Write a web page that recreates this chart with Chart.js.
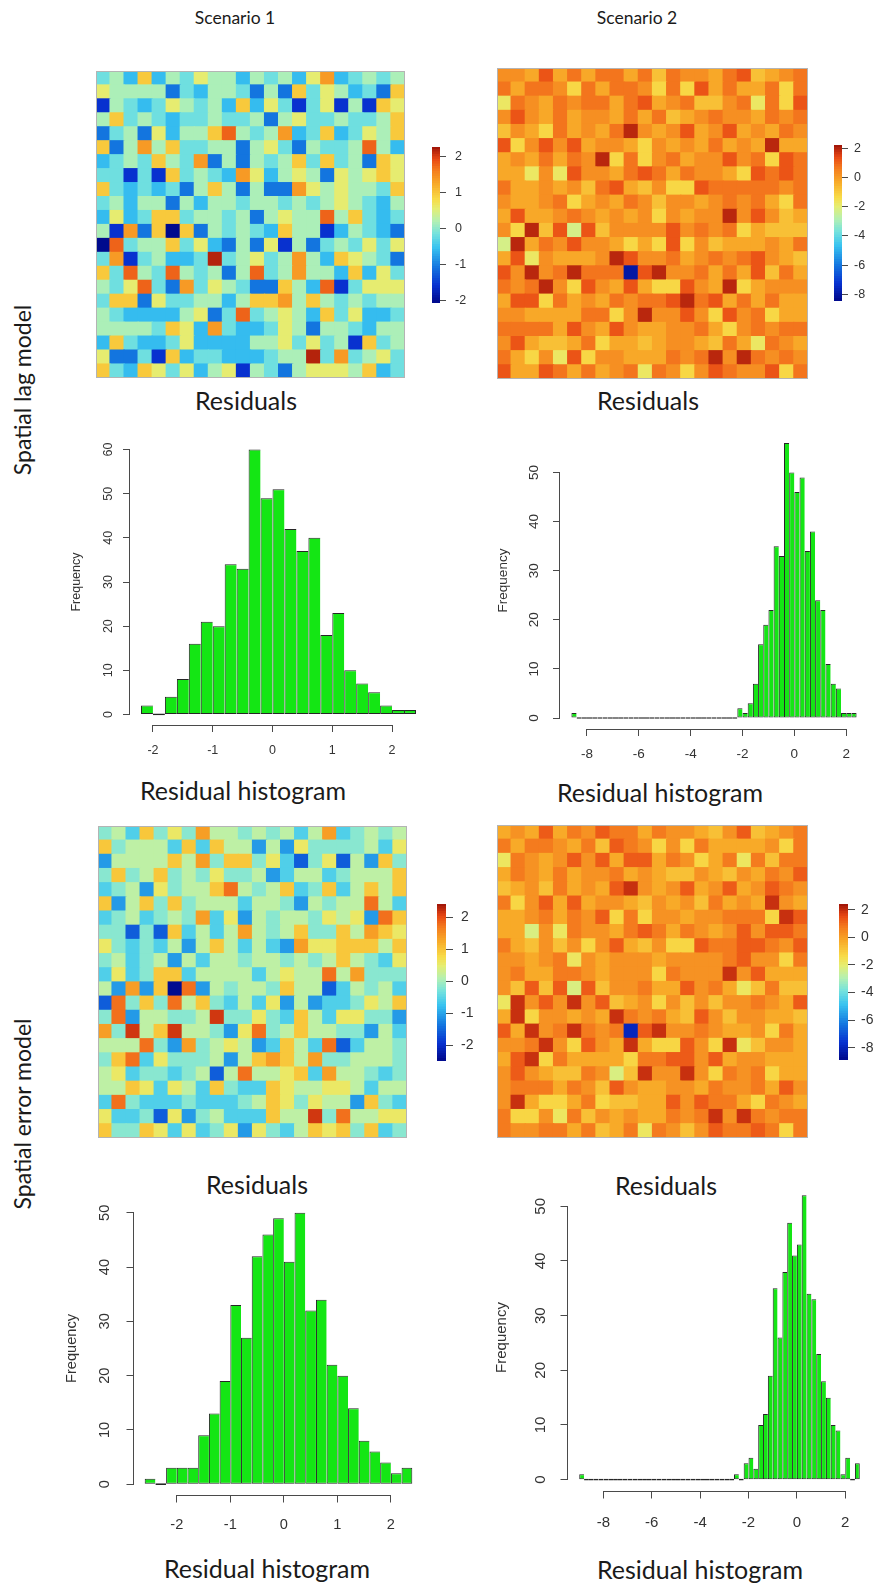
<!DOCTYPE html>
<html>
<head>
<meta charset="utf-8">
<script src="https://cdn.jsdelivr.net/npm/chart.js@4.4.0/dist/chart.umd.min.js"></script>
<style>
html,body{margin:0;padding:0;background:#fff;}
body{width:883px;height:1587px;position:relative;overflow:hidden;}
.box{position:absolute;}
.box canvas{display:block;}
.lbl{position:absolute;transform:translate(-50%,-50%);white-space:nowrap;color:#1a1a1a;font-family:Lato,"Open Sans",sans-serif;line-height:1;}
.rot{transform:translate(-50%,-50%) rotate(-90deg);}
</style>
</head>
<body>
<div class="lbl" style="left:235px;top:18px;font-size:17.5px">Scenario 1</div>
<div class="lbl" style="left:637px;top:18px;font-size:17.5px">Scenario 2</div>
<div class="lbl rot" style="left:22px;top:390px;font-size:23px">Spatial lag model</div>
<div class="lbl rot" style="left:22px;top:1114px;font-size:23px">Spatial error model</div>
<div class="lbl" style="left:246px;top:400px;font-size:25px">Residuals</div>
<div class="lbl" style="left:648px;top:400px;font-size:25px">Residuals</div>
<div class="lbl" style="left:243px;top:790px;font-size:25px">Residual histogram</div>
<div class="lbl" style="left:660px;top:792px;font-size:25px">Residual histogram</div>
<div class="lbl" style="left:257px;top:1184px;font-size:25px">Residuals</div>
<div class="lbl" style="left:666px;top:1185px;font-size:25px">Residuals</div>
<div class="lbl" style="left:267px;top:1568px;font-size:25px">Residual histogram</div>
<div class="lbl" style="left:700px;top:1569px;font-size:25px">Residual histogram</div>

<div class="box" style="left:96px;top:71px;width:309px;height:307px"><canvas id="hm1"></canvas></div>
<div class="box" style="left:497px;top:68px;width:311px;height:311px"><canvas id="hm2"></canvas></div>
<div class="box" style="left:98px;top:826px;width:309px;height:312px"><canvas id="hm3"></canvas></div>
<div class="box" style="left:497px;top:825px;width:311px;height:313px"><canvas id="hm4"></canvas></div>

<div class="box" style="left:432px;top:137px;width:48px;height:176px"><canvas id="cb1"></canvas></div>
<div class="box" style="left:834px;top:135px;width:48px;height:176px"><canvas id="cb2"></canvas></div>
<div class="box" style="left:437px;top:894px;width:49px;height:177px"><canvas id="cb3"></canvas></div>
<div class="box" style="left:839px;top:894px;width:44px;height:176px"><canvas id="cb4"></canvas></div>

<div class="box" style="left:50px;top:429px;width:387px;height:346px"><canvas id="h1"></canvas></div>
<div class="box" style="left:480px;top:422px;width:398px;height:357px"><canvas id="h2"></canvas></div>
<div class="box" style="left:54px;top:1192px;width:379px;height:353px"><canvas id="h3"></canvas></div>
<div class="box" style="left:488px;top:1174px;width:393px;height:367px"><canvas id="h4"></canvas></div>

<script>
// ---------------- DATA ----------------
// Residual maps: 22 x 22 cells, rows listed top to bottom, one letter per cell (level codes below)
const S1_LEVELS = {Z:-2.45, A:-2.05, B:-1.6, C:-1.1, D:-0.6, E:-0.2, F:0.15, G:0.55, H:0.95, I:1.35, J:1.75, K:2.15};
const S2_LEVELS = {a:-8.0, b:-2.3, c:-1.8, d:-1.3, e:-0.8, f:-0.3, g:0.2, h:0.7, i:1.2, j:1.9};

const lagS1Rows = [
"EFDHDFEGFFDFEFDGIDEFEF","GFFFFCEDFFECFCHEGFDECH","BFEDEGFEFDHDGEBEGBFBHG","FHEFEDEEFEEFCFGEEFEEFH",
"CEFCGDFFHJFEFIDEHDEGFH","HCFIFHEEFFCFGECFEEFJFD","DEFEHFEICFCFEFHEHEFCHG","EEBEBHEFEDIGDFGFCGFGHG",
"HEDEDECFHFCFCCIGFGFFEH","EFDFFCFDFFEFFEFEFGFEDF","DGDEHHEFFEFCFGFFJFHEDE","FBICHAHCFEFEDHFFBDFEDC",
"AJEFFHEGDCFCGBFCEFEGEG","EIBEFDDEKEFGEFIFDHGFEC","HEJFEJFEFCFJEFIFFDHDGE","FEGJECIEGFECCHFDJBEGGG",
"EHHCGEEFFDFHHIFHFEFEFF","FEDDDDFGCEJEFGFDHEGDDE","FFFFEHGDIEDDEGFCFFEDFF","DHEDDEGDDDDFFGEGEFBHEF",
"GCCEBHDEEDDDEFFKEIEFGE","HEDHGEGDFGBFECFGGGFHDE"];

const lagS2Rows = [
"ggfifhfhhfhehggfhiefgh","hfhhgdhfhhgdhdifhffhdh","chgfhghhfhifgheeghchdi","gigfhfggfhfhefghggfhgh",
"egfdhfgfhjgfgifgifgfhg","idgigifggfdgfgfhfgfjff","fgfhfhgjdhdghfggighdih","ffcgciggfhihfhggfdihih",
"hffgfgehifegddihhhhhgh","gffghdfgfhgeggfghghfdh","fiffghgfgfgdgfggjgigef","gdjeibieggggighghdfeee",
"bjfhgiggfdfdidgefffgfh","ficgfffgjigghfghghigfe","igjghjhhhaijgghfhfiehf","hghjgdigfifddigfjdfggg",
"fiidhfgfhghhijhifhfhff","ggffffhhdgjggigdighdff","hhhhfigfigffgghfdghghh","gifeefhdffefggfehfchgf",
"hfdgcidggfffhghjgjhghg","iffihfhfghchgdgihggidh"];

const errS1Rows = [
"EFDHEGEIFFEFEFDFIDEFEF","HEFFFDHDHFFCFCGEEEEFDG","CFFFFHFIEHHEGDBEGBFCHE","EHEFHEFEGEEFCDFFDEFFFH",
"DEFCGEFFHJFEFHDEHDFHFH","HCFHEHEFFFDFFECFEFFJFD","DEFDEFEIDGCFEFFEGFGCJH","EEBEBHDFDFIFEFHEEHFIHG",
"GEDEDFCFHFDFDCIGGHHHFH","EFDEFCFDFFEFFEFEFHFEDG","DGDEHHDFFFFDFGFFJFIEEE","FCICHZJCFEFFEHFFBDFEFD",
"BJEHEJFHEDFDGCFCDDEGFH","EJCFFEEFKEEGEDHFDGGEEC","IEKFHKFFECGJEFHFFEECFD","FFFJECIEFGFCDHFDJBDFFE",
"EHJDGEEEFCFHIHFIEEFFFE","FGDEEDEFBFJFFGHDIFFEDE","FFHGDGFDHEDDHGFFGGFDFF","DJEDDDEDDDEFHGEGFFCHED",
"GDDEBGCEFDDDHFFKEJFFGG","HEEHGDGDEGCGEDFHGHEHDE"];

const errS2Rows = [
"fgfifhgihhfhggfegiefgh","hfhhgfheihgdgdhffffgdh","chgfgigifiifhgdfhchehh","fhgfhfgghfgfeegfegfhgi",
"efgehfgfijgfgifgifgihg","hdgififggfegfgehfgfjgf","ffghfhgidhdggfgghhhdji","ffbgchggfhihfhgfgigiih",
"hfegegdgifegddihhiihgi","ggfghcgfgggfgggghiggdh","ghffhhgfgggdhgggjgifff","geieibiegghffighfcehee",
"cjgigjgiefgdgegegghgfi","fjdggfgfjhghfeigeggffe","ifjghjhghaijgghgffgdhf","gghjgdigfjfddigdjceggf",
"fijdhffffdhhiigifggfff","gigfeehgbejggjgdhghdff","ghhhfhgeigffggfhgghfig","gjfddfhdeeffigihhfdhgf",
"hddgchegfgffhghjgjhghh","hgghhfhefhchgegihhihdh"];

// Colour-scale limits (legend extent) and legend tick labels
const lagS1Range = [-2.07, 2.26], lagS2Range = [-8.46, 2.23];
const errS1Range = [-2.5, 2.42],  errS2Range = [-8.89, 2.41];
const legendTicksS1 = [-2, -1, 0, 1, 2];
const legendTicksS2 = [-8, -6, -4, -2, 0, 2];

// Residual histograms: bin midpoints and frequencies
const lagS1Mids = [-2.1,-1.9,-1.7,-1.5,-1.3,-1.1,-0.9,-0.7,-0.5,-0.3,-0.1,0.1,0.3,0.5,0.7,0.9,1.1,1.3,1.5,1.7,1.9,2.1,2.3];
const lagS1Counts = [2,0,4,8,16,21,20,34,33,60,49,51,42,37,40,18,23,10,7,5,2,1,1];

const lagS2Mids = [-8.5,-8.3,-8.1,-7.9,-7.7,-7.5,-7.3,-7.1,-6.9,-6.7,-6.5,-6.3,-6.1,-5.9,-5.7,-5.5,-5.3,-5.1,-4.9,-4.7,-4.5,-4.3,-4.1,-3.9,-3.7,-3.5,-3.3,-3.1,-2.9,-2.7,-2.5,-2.3,
  -2.1,-1.9,-1.7,-1.5,-1.3,-1.1,-0.9,-0.7,-0.5,-0.3,-0.1,0.1,0.3,0.5,0.7,0.9,1.1,1.3,1.5,1.7,1.9,2.1,2.3];
const lagS2Counts = [1,0,0,0,0,0,0,0,0,0,0,0,0,0,0,0,0,0,0,0,0,0,0,0,0,0,0,0,0,0,0,0,
  2,1,3,7,15,19,22,35,33,56,50,46,49,34,38,24,22,11,7,6,1,1,1];

const errS1Mids = [-2.5,-2.3,-2.1,-1.9,-1.7,-1.5,-1.3,-1.1,-0.9,-0.7,-0.5,-0.3,-0.1,0.1,0.3,0.5,0.7,0.9,1.1,1.3,1.5,1.7,1.9,2.1,2.3];
const errS1Counts = [1,0,3,3,3,9,13,19,33,27,42,46,49,41,50,32,34,22,20,14,8,6,4,2,3];

const errS2Mids = [-8.9,-8.7,-8.5,-8.3,-8.1,-7.9,-7.7,-7.5,-7.3,-7.1,-6.9,-6.7,-6.5,-6.3,-6.1,-5.9,-5.7,-5.5,-5.3,-5.1,-4.9,-4.7,-4.5,-4.3,-4.1,-3.9,-3.7,-3.5,-3.3,-3.1,-2.9,-2.7,
  -2.5,-2.3,-2.1,-1.9,-1.7,-1.5,-1.3,-1.1,-0.9,-0.7,-0.5,-0.3,-0.1,0.1,0.3,0.5,0.7,0.9,1.1,1.3,1.5,1.7,1.9,2.1,2.3,2.5];
const errS2Counts = [1,0,0,0,0,0,0,0,0,0,0,0,0,0,0,0,0,0,0,0,0,0,0,0,0,0,0,0,0,0,0,0,
  1,0,3,4,2,10,12,19,35,26,38,47,41,43,52,34,33,23,18,15,10,9,1,4,0,3];

const histTicksY = [0, 10, 20, 30, 40, 50];
const histTicksY60 = [0, 10, 20, 30, 40, 50, 60];
const histTicksX1 = [-2, -1, 0, 1, 2];
const histTicksX2 = [-8, -6, -4, -2, 0, 2];

// ---------------- STYLE ----------------
Chart.defaults.font.family = '"Liberation Sans", Arial, Helvetica, sans-serif';
Chart.defaults.animation = false;
const AXIS = '#4a4a4a', TEXT = '#333333', GREEN = '#14e614';
const PAL = [[0.00,[0,8,138]],[0.11,[8,50,208]],[0.23,[20,120,224]],[0.35,[56,194,240]],[0.44,[116,226,222]],
  [0.52,[178,240,180]],[0.60,[228,238,116]],[0.66,[248,220,72]],[0.76,[248,170,40]],[0.85,[244,122,30]],
  [0.92,[232,72,20]],[1.00,[156,18,8]]];
function colorAt(t) {
  t = Math.max(0, Math.min(1, t));
  for (let k = 1; k < PAL.length; k++) {
    if (t <= PAL[k][0]) {
      const [t0, c0] = PAL[k-1], [t1, c1] = PAL[k];
      const u = (t - t0) / (t1 - t0);
      return 'rgb(' + c0.map((c, j) => Math.round(c + (c1[j] - c) * u)).join(',') + ')';
    }
  }
  return 'rgb(' + PAL[PAL.length-1][1].join(',') + ')';
}

const framePlugin = {
  id: 'frame',
  afterDraw(chart) {
    const a = chart.chartArea, ctx = chart.ctx;
    ctx.save(); ctx.strokeStyle = '#b4b4b4'; ctx.lineWidth = 1;
    ctx.strokeRect(a.left + 0.5, a.top + 0.5, a.right - a.left - 1, a.bottom - a.top - 1);
    ctx.restore();
  }
};

const rAxisPlugin = {
  id: 'rAxis',
  afterDraw(chart, args, opts) {
    const {ctx, chartArea: a, scales: {x, y}} = chart;
    ctx.save();
    ctx.strokeStyle = AXIS; ctx.lineWidth = 1;
    const xt = x.ticks, yt = y.ticks;
    const yb = Math.round(a.bottom) + 0.5, xl = Math.round(a.left) - 0.5;
    ctx.beginPath();
    ctx.moveTo(x.getPixelForValue(xt[0].value), yb);
    ctx.lineTo(x.getPixelForValue(xt[xt.length-1].value), yb);
    ctx.moveTo(xl, y.getPixelForValue(yt[0].value));
    ctx.lineTo(xl, y.getPixelForValue(yt[yt.length-1].value));
    ctx.stroke();
    ctx.fillStyle = TEXT; ctx.textAlign = 'center'; ctx.textBaseline = 'middle';
    ctx.font = opts.size + 'px "Liberation Sans", Arial, sans-serif';
    for (const t of yt) {
      ctx.save();
      ctx.translate(a.left - opts.yOff, y.getPixelForValue(t.value));
      ctx.rotate(-Math.PI / 2);
      ctx.fillText(String(t.value), 0, 0);
      ctx.restore();
    }
    ctx.restore();
  }
};

function heatmap(id, rows, levels, range) {
  const nR = rows.length, nC = rows[0].length;
  const labels = Array.from({length: nC}, (_, i) => 'c' + (i + 1));
  const datasets = [];
  for (let r = nR - 1; r >= 0; r--) {
    const vals = rows[r].split('').map(ch => levels[ch]);
    datasets.push({
      label: 'row ' + (r + 1),
      data: vals.map(() => 1),
      backgroundColor: vals.map(v => colorAt((v - range[0]) / (range[1] - range[0]))),
      borderWidth: 0, barPercentage: 1, categoryPercentage: 1, inflateAmount: 0.6
    });
  }
  new Chart(document.getElementById(id), {
    type: 'bar',
    data: {labels, datasets},
    options: {
      responsive: true, maintainAspectRatio: false, events: [],
      layout: {padding: 0},
      plugins: {legend: {display: false}, tooltip: {enabled: false}},
      scales: {
        x: {stacked: true, display: false},
        y: {stacked: true, display: false, min: 0, max: nR}
      }
    },
    plugins: [framePlugin]
  });
}

function colorbar(id, range, ticks, cfg) {
  const N = 64, datasets = [];
  for (let k = 0; k < N; k++) {
    const lo = range[0] + (range[1] - range[0]) * k / N;
    const hi = range[0] + (range[1] - range[0]) * (k + 1) / N;
    datasets.push({data: [[lo, hi]], backgroundColor: colorAt((k + 0.5) / N), borderWidth: 0,
      grouped: false, barPercentage: 1, categoryPercentage: 1, inflateAmount: 0.5});
  }
  new Chart(document.getElementById(id), {
    type: 'bar',
    data: {labels: [''], datasets},
    options: {
      responsive: true, maintainAspectRatio: false, events: [],
      layout: {padding: {top: 10, bottom: 10, left: 0, right: 0}},
      plugins: {legend: {display: false}, tooltip: {enabled: false}},
      scales: {
        x: {display: false},
        y: {position: 'right', min: range[0], max: range[1],
            afterBuildTicks: s => { s.ticks = ticks.map(v => ({value: v})); },
            afterFit: s => { s.width = cfg.axisW; s.paddingTop = 0; s.paddingBottom = 0; },
            grid: {drawOnChartArea: false, drawTicks: true, tickLength: cfg.tick, color: AXIS},
            border: {display: false},
            ticks: {font: {size: cfg.font}, color: TEXT, padding: cfg.pad}}
      }
    }
  });
}

function histogram(id, mids, counts, cfg) {
  const last = mids.length - 1;
  new Chart(document.getElementById(id), {
    type: 'bar',
    data: {datasets: [{
      data: mids.map((x, i) => ({x: x, y: counts[i]})),
      backgroundColor: GREEN, borderColor: '#262626',
      borderWidth: ctx => ({left: 1, top: 1, bottom: 1, right: ctx.dataIndex === last ? 1 : 0}),
      borderSkipped: false, barPercentage: 1, categoryPercentage: 1, minBarLength: 1.6, inflateAmount: 0
    }]},
    options: {
      responsive: true, maintainAspectRatio: false, events: [],
      layout: {padding: {left: 0, top: 10, right: 10, bottom: 0}},
      plugins: {legend: {display: false}, tooltip: {enabled: false}, rAxis: {size: cfg.font, yOff: cfg.yOff}},
      scales: {
        x: {type: 'linear', min: cfg.xr[0], max: cfg.xr[1], offset: false,
            afterBuildTicks: s => { s.ticks = cfg.xt.map(v => ({value: v})); },
            afterFit: s => { s.height = 50; s.paddingLeft = 0; s.paddingRight = 0; },
            grid: {offset: false, drawOnChartArea: false, drawTicks: true, tickLength: cfg.tick, color: AXIS},
            border: {display: false},
            ticks: {autoSkip: false, maxRotation: 0, font: {size: cfg.font}, color: TEXT, padding: cfg.xPad}},
        y: {min: cfg.yr[0], max: cfg.yr[1],
            afterBuildTicks: s => { s.ticks = cfg.yt.map(v => ({value: v})); },
            afterFit: s => { s.width = 80; s.paddingTop = 0; s.paddingBottom = 0; },
            grid: {drawOnChartArea: false, drawTicks: true, tickLength: cfg.tick, color: AXIS},
            border: {display: false},
            ticks: {display: false},
            title: {display: true, text: 'Frequency', color: TEXT, font: {size: cfg.font},
                    padding: {top: cfg.titlePad, bottom: 0}}}
      }
    },
    plugins: [rAxisPlugin]
  });
}

heatmap('hm1', lagS1Rows, S1_LEVELS, lagS1Range);
heatmap('hm2', lagS2Rows, S2_LEVELS, lagS2Range);
heatmap('hm3', errS1Rows, S1_LEVELS, errS1Range);
heatmap('hm4', errS2Rows, S2_LEVELS, errS2Range);

colorbar('cb1', lagS1Range, legendTicksS1, {axisW: 40, tick: 6, font: 12.5, pad: 9});
colorbar('cb2', lagS2Range, legendTicksS2, {axisW: 40, tick: 6, font: 12.5, pad: 6});
colorbar('cb3', errS1Range, legendTicksS1, {axisW: 40, tick: 7, font: 14, pad: 8});
colorbar('cb4', errS2Range, legendTicksS2, {axisW: 35, tick: 7, font: 14, pad: 6});

histogram('h1', lagS1Mids, lagS1Counts, {xr: [-2.384, 2.584], yr: [-2.4, 62.4], xt: histTicksX1, yt: histTicksY60,
  font: 12.5, tick: 7, xPad: 11, yOff: 21, titlePad: 19.4});
histogram('h2', lagS2Mids, lagS2Counts, {xr: [-9.04, 2.84], yr: [-2.24, 58.24], xt: histTicksX2, yt: histTicksY,
  font: 13.5, tick: 7, xPad: 10.5, yOff: 26, titlePad: 15.2});
histogram('h3', errS1Mids, errS1Counts, {xr: [-2.8, 2.6], yr: [-2, 52], xt: histTicksX1, yt: histTicksY,
  font: 14.6, tick: 7.5, xPad: 13.5, yOff: 29, titlePad: 9.5});
histogram('h4', errS2Mids, errS2Counts, {xr: [-9.464, 3.064], yr: [-2.08, 54.08], xt: histTicksX2, yt: histTicksY,
  font: 15, tick: 7.5, xPad: 15, yOff: 27.5, titlePad: 4.7});
</script>
</body>
</html>
